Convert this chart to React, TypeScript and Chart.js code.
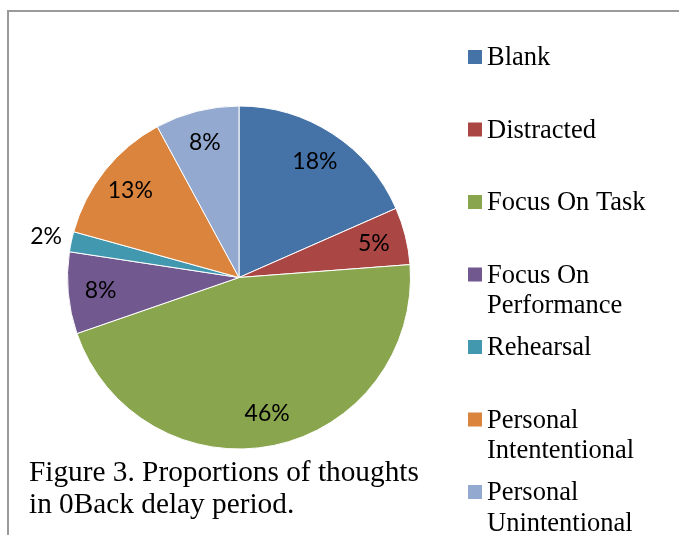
import React, { useEffect, useRef } from "react";
import { Chart, registerables } from "chart.js";

Chart.register(...registerables);

// ---- data ----
const categories: string[][] = [
  ["Blank"],
  ["Distracted"],
  ["Focus On Task"],
  ["Focus On", "Performance"],
  ["Rehearsal"],
  ["Personal", "Intententional"],
  ["Personal", "Unintentional"],
];
const shares = [18.4, 5.4, 45.9, 7.7, 1.9, 12.8, 7.9];
const sliceColors = ["#4572A7", "#AA4643", "#89A54E", "#71588F", "#4198AF", "#DB843D", "#93A9CF"];
const captionLines = ["Figure 3. Proportions of thoughts", "in 0Back delay period."];

const W = 679;
const H = 535;

const framePlugin = {
  id: "frame",
  beforeDraw(chart: any) {
    const ctx = chart.ctx;
    ctx.save();
    ctx.fillStyle = "#ffffff";
    ctx.fillRect(0, 0, W, H);
    ctx.strokeStyle = "#9a9a9a";
    ctx.lineWidth = 2;
    ctx.beginPath();
    ctx.moveTo(8, H);
    ctx.lineTo(8, 11);
    ctx.lineTo(W, 11);
    ctx.stroke();
    ctx.restore();
  },
};

const sliceLabelPlugin = {
  id: "sliceLabels",
  afterDatasetsDraw(chart: any) {
    const ctx = chart.ctx;
    const meta = chart.getDatasetMeta(0);
    const data = chart.data.datasets[0].data as number[];
    const total = data.reduce((a, b) => a + b, 0);
    ctx.save();
    ctx.font = '23px Lato, "Open Sans", sans-serif';
    ctx.fillStyle = "#000000";
    ctx.textAlign = "center";
    ctx.textBaseline = "middle";
    meta.data.forEach((arc: any, i: number) => {
      const p = arc.getProps(["x", "y", "startAngle", "endAngle", "outerRadius"], true);
      const mid = (p.startAngle + p.endAngle) / 2;
      const pct = Math.round((data[i] / total) * 100);
      const f = pct < 3 ? 1.15 : 0.81;
      const x = p.x + Math.cos(mid) * p.outerRadius * f;
      const y = p.y + Math.sin(mid) * p.outerRadius * f;
      ctx.fillText(pct + "%", x, y);
    });
    ctx.restore();
  },
};

const legendCaptionPlugin = {
  id: "legendCaption",
  afterDraw(chart: any) {
    const ctx = chart.ctx;
    const labels = chart.data.labels as string[][];
    const colors = chart.data.datasets[0].backgroundColor as string[];
    ctx.save();
    ctx.textAlign = "left";
    ctx.textBaseline = "alphabetic";
    ctx.fillStyle = "#000000";
    ctx.font = '26.5px "Liberation Serif", "Times New Roman", serif';
    labels.forEach((lines, i) => {
      const base = 65 + i * 72.5;
      ctx.fillStyle = colors[i];
      ctx.fillRect(468, base - 15, 14, 14);
      ctx.fillStyle = "#000000";
      lines.forEach((t, j) => ctx.fillText(t, 487, base + j * 30.5));
    });
    ctx.font = '29.3px "Liberation Serif", "Times New Roman", serif';
    captionLines.forEach((t, j) => ctx.fillText(t, 29, 481 + j * 32));
    ctx.restore();
  },
};

export default function App() {
  const ref = useRef<HTMLCanvasElement | null>(null);
  useEffect(() => {
    if (!ref.current) return;
    const chart = new Chart(ref.current, {
      type: "pie",
      data: {
        labels: categories as any,
        datasets: [
          {
            data: shares,
            backgroundColor: sliceColors,
            borderColor: "#ffffff",
            borderWidth: 1,
          },
        ],
      },
      options: {
        responsive: false,
        animation: false,
        devicePixelRatio: 1,
        layout: { padding: { left: 67, right: 268, top: 105, bottom: 85 } },
        plugins: { legend: { display: false }, tooltip: { enabled: false } },
      },
      plugins: [framePlugin, sliceLabelPlugin, legendCaptionPlugin],
    });
    return () => chart.destroy();
  }, []);
  return (
    <div style={{ position: "absolute", left: 0, top: 0, width: W, height: H }}>
      <canvas ref={ref} width={W} height={H} style={{ display: "block" }} />
    </div>
  );
}
